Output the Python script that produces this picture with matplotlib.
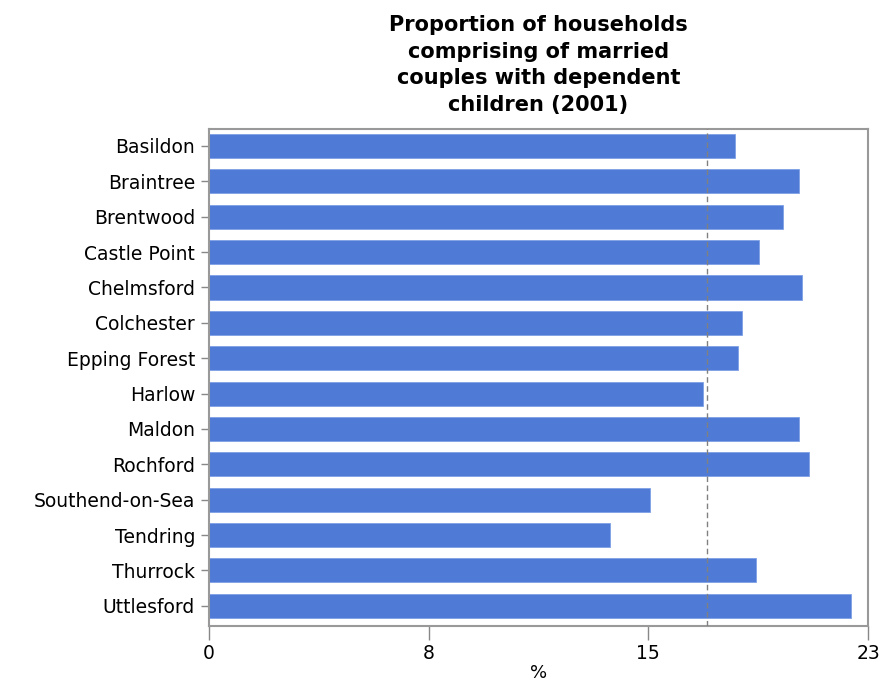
#!/usr/bin/env python3
"""
Proporción de hogares con parejas casadas e hijos dependientes (2001), por distrito.
"""

import matplotlib
matplotlib.use('Agg')
import matplotlib.pyplot as plt

districts = ['Basildon', 'Braintree', 'Brentwood', 'Castle Point', 'Chelmsford',
             'Colchester', 'Epping Forest', 'Harlow', 'Maldon', 'Rochford',
             'Southend-on-Sea', 'Tendring', 'Thurrock', 'Uttlesford']
values = [18.35, 20.58, 20.02, 19.19, 20.71, 18.61, 18.47, 17.23,
          20.58, 20.93, 15.40, 14.01, 19.10, 22.39]
average = 17.38
x_max = 23
x_ticks = [0, 23 / 3, 46 / 3, 23]
x_tick_labels = ['0', '8', '15', '23']

plt.rcParams['font.family'] = ['DejaVu Sans']

fig = plt.figure(figsize=(8.91, 6.83), dpi=100)
ax = fig.add_axes([209 / 891, 1 - 626 / 683, (868 - 209) / 891, (626 - 129) / 683])

ax.barh(range(len(districts)), values, height=0.68, color='#4f7bd6',
        edgecolor='#7fa0e6', linewidth=0.6, zorder=2)
ax.axvline(average, color='#808080', linestyle=(0, (4, 2.5)), linewidth=1, zorder=3)

ax.set_xlim(0, x_max)
ax.set_ylim(13.57, -0.48)
ax.set_yticks(range(len(districts)))
ax.set_yticklabels(districts, fontsize=13.5)
ax.set_xticks(x_ticks)
ax.set_xticklabels(x_tick_labels, fontsize=13.5)

for spine in ax.spines.values():
    spine.set_color('#999999')
    spine.set_linewidth(1.5)

ax.tick_params(axis='y', length=6, width=1, color='#888888', pad=4)
ax.tick_params(axis='x', length=10, width=1, color='#888888', pad=3)
ax.set_xlabel('%', fontsize=13, labelpad=1)

ax.set_title('Proportion of households\ncomprising of married\ncouples with dependent\nchildren (2001)',
             fontsize=15, fontweight='bold', linespacing=1.42, pad=13)

plt.savefig('out.png', dpi=100)
